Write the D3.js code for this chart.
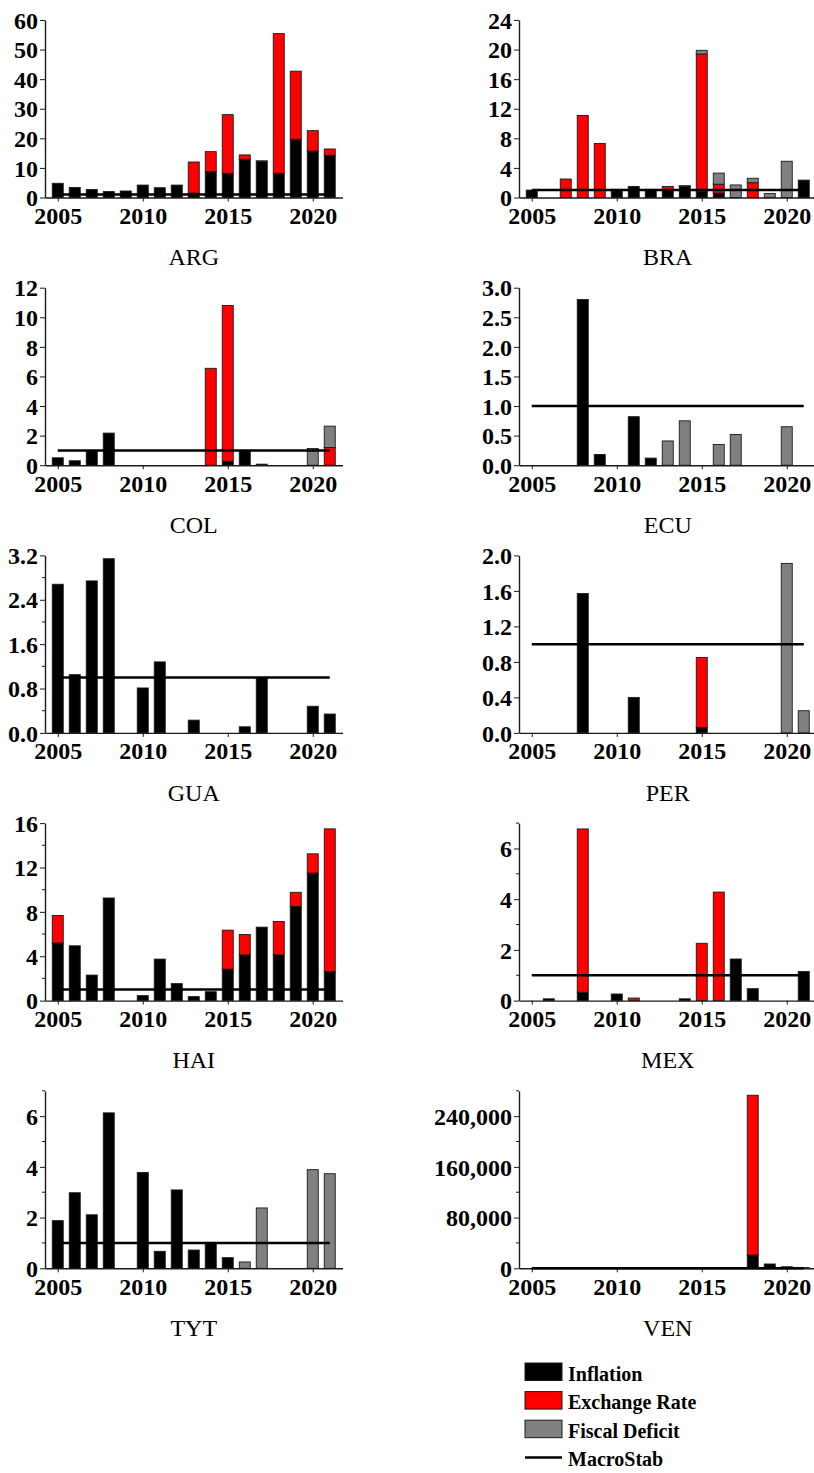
<!DOCTYPE html>
<html>
<head>
<meta charset="utf-8">
<script src="https://cdn.jsdelivr.net/npm/d3@7"></script>
<style>
  body { margin: 0; background: #fff; }
  svg { display: block; }
</style>
</head>
<body>
<script>
// Years shown on every panel
const years = [2005, 2006, 2007, 2008, 2009, 2010, 2011, 2012, 2013, 2014, 2015, 2016, 2017, 2018, 2019, 2020, 2021];
const xTickYears = [2005, 2010, 2015, 2020];
const seriesNames = ["Inflation", "Exchange Rate", "Fiscal Deficit"];
const macroStab = 1;

// ARG
const argInflation = [4.8, 3.4, 2.7, 2.0, 2.2, 4.2, 3.3, 4.2, 1.5, 8.8, 8.2, 12.9, 12.2, 8.2, 19.7, 15.7, 14.3];
const argExchange  = [0, 0, 0, 0, 0, 0, 0, 0, 10.5, 6.7, 19.8, 1.5, 0.2, 47.2, 23.0, 6.9, 2.1];
const argFiscal    = [0, 0, 0, 0, 0, 0, 0, 0, 0, 0, 0, 0, 0, 0, 0, 0, 0];
const argTicks = [0, 10, 20, 30, 40, 50, 60];

// BRA
const braInflation = [1.0, 0, 0, 0, 0, 1.1, 1.5, 1.1, 1.0, 1.5, 0.8, 0.6, 0, 0, 0, 0, 2.35];
const braExchange  = [0, 0, 2.5, 11.1, 7.3, 0, 0, 0, 0.5, 0, 18.6, 1.2, 0, 2.0, 0, 0, 0];
const braFiscal    = [0, 0, 0, 0, 0, 0, 0, 0, 0, 0.1, 0.5, 1.5, 1.7, 0.6, 0.55, 4.9, 0];
const braTicks = [0, 4, 8, 12, 16, 20, 24];

// COL
const colInflation = [0.5, 0.3, 1.0, 2.17, 0, 0, 0, 0, 0, 0, 0.27, 1.0, 0.07, 0, 0, 0, 0];
const colExchange  = [0, 0, 0, 0, 0, 0, 0, 0, 0, 6.55, 10.53, 0, 0, 0, 0, 0, 1.2];
const colFiscal    = [0, 0, 0, 0, 0, 0, 0, 0, 0, 0, 0, 0, 0, 0, 0, 1.13, 1.44];
const colTicks = [0, 2, 4, 6, 8, 10, 12];

// ECU
const ecuInflation = [0, 0, 0, 2.8, 0.18, 0, 0.82, 0.12, 0, 0, 0, 0, 0, 0, 0, 0, 0];
const ecuExchange  = [0, 0, 0, 0, 0, 0, 0, 0, 0, 0, 0, 0, 0, 0, 0, 0, 0];
const ecuFiscal    = [0, 0, 0, 0, 0, 0, 0, 0, 0.41, 0.75, 0, 0.35, 0.52, 0, 0, 0.65, 0];
const ecuTicks = [0, 0.5, 1.0, 1.5, 2.0, 2.5, 3.0];

// GUA
const guaInflation = [2.68, 1.05, 2.74, 3.14, 0, 0.81, 1.28, 0, 0.23, 0, 0, 0.11, 1.0, 0, 0, 0.48, 0.34];
const guaExchange  = [0, 0, 0, 0, 0, 0, 0, 0, 0, 0, 0, 0, 0, 0, 0, 0, 0];
const guaFiscal    = [0, 0, 0, 0, 0, 0, 0, 0, 0, 0, 0, 0, 0, 0, 0, 0, 0];
const guaTicks = [0, 0.8, 1.6, 2.4, 3.2];
const guaMinor = [0.4, 1.2, 2.0, 2.8];

// PER
const perInflation = [0, 0, 0, 1.57, 0, 0, 0.40, 0, 0, 0, 0.06, 0, 0, 0, 0, 0, 0];
const perExchange  = [0, 0, 0, 0, 0, 0, 0, 0, 0, 0, 0.79, 0, 0, 0, 0, 0, 0];
const perFiscal    = [0, 0, 0, 0, 0, 0, 0, 0, 0, 0, 0, 0, 0, 0, 0, 1.91, 0.25];
const perTicks = [0, 0.4, 0.8, 1.2, 1.6, 2.0];

// HAI
const haiInflation = [5.2, 4.94, 2.3, 9.25, 0, 0.45, 3.74, 1.53, 0.36, 0.8, 2.84, 4.13, 6.62, 4.13, 8.5, 11.5, 2.63];
const haiExchange  = [2.47, 0, 0, 0, 0, 0, 0, 0, 0, 0, 3.51, 1.83, 0, 3.0, 1.26, 1.73, 12.85];
const haiFiscal    = [0, 0, 0, 0, 0, 0, 0, 0, 0, 0, 0, 0, 0, 0, 0, 0, 0];
const haiTicks = [0, 4, 8, 12, 16];
const haiMinor = [2, 6, 10, 14];

// MEX
const mexInflation = [0, 0.07, 0, 0.33, 0, 0.26, 0, 0, 0, 0.07, 0, 0, 1.64, 0.47, 0, 0, 1.15];
const mexExchange  = [0, 0, 0, 6.44, 0, 0, 0.1, 0, 0, 0, 2.26, 4.28, 0, 0, 0, 0, 0];
const mexFiscal    = [0, 0, 0, 0, 0, 0, 0, 0, 0, 0, 0, 0, 0, 0, 0, 0, 0];
const mexTicks = [0, 2, 4, 6];
const mexMinor = [1, 3, 5, 7];

// TYT
const tytInflation = [1.88, 2.98, 2.11, 6.13, 0, 3.78, 0.67, 3.09, 0.72, 1.02, 0.42, 0, 0, 0, 0, 0, 0];
const tytExchange  = [0, 0, 0, 0, 0, 0, 0, 0, 0, 0, 0, 0, 0, 0, 0, 0, 0];
const tytFiscal    = [0, 0, 0, 0, 0, 0, 0, 0, 0, 0, 0, 0.25, 2.38, 0, 0, 3.89, 3.73];
const tytTicks = [0, 2, 4, 6];
const tytMinor = [1, 3, 5, 7];

// VEN
const venInflation = [0, 0, 0, 0, 0, 0, 0, 0, 0, 0, 0, 0, 0, 21000, 6800, 2400, 1000];
const venExchange  = [0, 0, 0, 0, 0, 0, 0, 0, 0, 0, 0, 0, 0, 252000, 0, 0, 0];
const venFiscal    = [0, 0, 0, 0, 0, 0, 0, 0, 0, 0, 0, 0, 0, 0, 0, 0, 0];
const venTicks = [0, 80000, 160000, 240000];
const venMinor = [40000, 120000, 200000, 280000];

// Panel list (reading order: left, right, next row ...)
const panels = [
  { name: "ARG", inflation: argInflation, exchange: argExchange, fiscal: argFiscal, ticks: argTicks, minor: [], max: 60, fmt: d3.format("d") },
  { name: "BRA", inflation: braInflation, exchange: braExchange, fiscal: braFiscal, ticks: braTicks, minor: [], max: 24, fmt: d3.format("d") },
  { name: "COL", inflation: colInflation, exchange: colExchange, fiscal: colFiscal, ticks: colTicks, minor: [], max: 12, fmt: d3.format("d") },
  { name: "ECU", inflation: ecuInflation, exchange: ecuExchange, fiscal: ecuFiscal, ticks: ecuTicks, minor: [], max: 3, fmt: d3.format(".1f") },
  { name: "GUA", inflation: guaInflation, exchange: guaExchange, fiscal: guaFiscal, ticks: guaTicks, minor: guaMinor, max: 3.2, fmt: d3.format(".1f") },
  { name: "PER", inflation: perInflation, exchange: perExchange, fiscal: perFiscal, ticks: perTicks, minor: [], max: 2, fmt: d3.format(".1f") },
  { name: "HAI", inflation: haiInflation, exchange: haiExchange, fiscal: haiFiscal, ticks: haiTicks, minor: haiMinor, max: 16, fmt: d3.format("d") },
  { name: "MEX", inflation: mexInflation, exchange: mexExchange, fiscal: mexFiscal, ticks: mexTicks, minor: mexMinor, max: 7, fmt: d3.format("d") },
  { name: "TYT", inflation: tytInflation, exchange: tytExchange, fiscal: tytFiscal, ticks: tytTicks, minor: tytMinor, max: 7, fmt: d3.format("d") },
  { name: "VEN", inflation: venInflation, exchange: venExchange, fiscal: venFiscal, ticks: venTicks, minor: venMinor, max: 280000, fmt: d3.format(",") }
];

const colors = { "Inflation": "#000000", "Exchange Rate": "#ff0000", "Fiscal Deficit": "#808080" };

// Layout
const W = 814, H = 1473;
const colX = [45, 519];
const rowTop = [20, 287.7, 555.4, 823.1, 1090.8];
const plotW = 297.5, plotH = 177.5;
const barW = 11;
const serif = "'Liberation Serif', 'Times New Roman', Times, serif";

const svg = d3.select("body").append("svg")
  .attr("width", W).attr("height", H)
  .style("font-family", serif);

const x = d3.scaleLinear().domain([2004.25, 2021.75]).range([0, plotW]);

panels.forEach((p, i) => {
  const gx = colX[i % 2], gy = rowTop[Math.floor(i / 2)];
  const g = svg.append("g").attr("transform", `translate(${gx},${gy})`);
  const y = d3.scaleLinear().domain([0, p.max]).range([plotH, 0]);

  const rows = years.map((yr, k) => ({
    year: yr,
    "Inflation": p.inflation[k],
    "Exchange Rate": p.exchange[k],
    "Fiscal Deficit": p.fiscal[k]
  }));
  const stacked = d3.stack().keys(seriesNames)(rows);

  stacked.forEach(layer => {
    g.append("g")
      .selectAll("rect")
      .data(layer.filter(d => d[1] - d[0] > 0))
      .join("rect")
      .attr("x", d => x(d.data.year) - barW / 2)
      .attr("width", barW)
      .attr("y", d => y(d[1]))
      .attr("height", d => Math.max(0.6, y(d[0]) - y(d[1])))
      .attr("fill", colors[layer.key])
      .attr("stroke", "#1a1a1a")
      .attr("stroke-width", 0.9);
  });

  // x axis
  const xa = g.append("g").attr("transform", `translate(0,${plotH})`)
    .call(d3.axisBottom(x).tickValues(xTickYears).tickSize(4).tickSizeOuter(0).tickFormat(d3.format("d")));
  xa.select(".domain").attr("stroke", "#1a1a1a").attr("stroke-width", 1.4);
  xa.selectAll(".tick line").attr("stroke", "#1a1a1a").attr("stroke-width", 1);
  xa.selectAll(".tick text")
    .attr("dy", null).attr("y", 26.5)
    .style("font-family", serif).style("font-size", "24px").style("font-weight", "bold").attr("fill", "#000");

  // y axis
  const ya = g.append("g")
    .call(d3.axisLeft(y).tickValues(p.ticks).tickSize(5).tickSizeOuter(0).tickFormat(p.fmt));
  ya.select(".domain").attr("stroke", "#1a1a1a").attr("stroke-width", 1.4);
  ya.selectAll(".tick line").attr("stroke", "#1a1a1a").attr("stroke-width", 1);
  ya.selectAll(".tick text")
    .attr("x", -7).attr("dy", "0.34em")
    .style("font-family", serif).style("font-size", "24px").style("font-weight", "bold").attr("fill", "#000");

  // minor ticks
  g.append("g").selectAll("line").data(p.minor).join("line")
    .attr("x1", -3).attr("x2", 0)
    .attr("y1", d => y(d)).attr("y2", d => y(d))
    .attr("stroke", "#1a1a1a").attr("stroke-width", 1);

  // MacroStab reference line
  g.append("line")
    .attr("x1", x(years[0])).attr("x2", x(years[years.length - 1]))
    .attr("y1", y(macroStab)).attr("y2", y(macroStab))
    .attr("stroke", "#000").attr("stroke-width", 2.5);

  // Country label
  g.append("text")
    .attr("x", plotW / 2).attr("y", plotH + 67.7)
    .attr("text-anchor", "middle")
    .style("font-size", "24px")
    .text(p.name);
});

// Legend
const legend = svg.append("g").attr("transform", "translate(525,1363)");
const legendItems = seriesNames.concat(["MacroStab"]);
legendItems.forEach((name, i) => {
  const ly = i * 28.6;
  if (name === "MacroStab") {
    legend.append("line")
      .attr("x1", 0).attr("x2", 37)
      .attr("y1", ly + 8.8).attr("y2", ly + 8.8)
      .attr("stroke", "#000").attr("stroke-width", 2.5);
  } else {
    legend.append("rect")
      .attr("x", 0).attr("y", ly).attr("width", 37).attr("height", 17.5)
      .attr("fill", colors[name]).attr("stroke", "#1a1a1a").attr("stroke-width", 1);
  }
  legend.append("text")
    .attr("x", 43).attr("y", ly + 17.5)
    .style("font-size", "20px").style("font-weight", "bold")
    .text(name);
});
</script>
</body>
</html>
